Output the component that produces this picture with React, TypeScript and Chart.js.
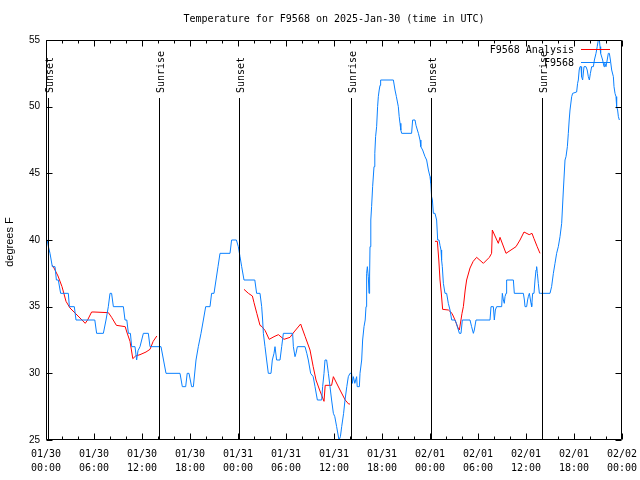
import React, { useEffect, useRef } from "react";
import { Chart, registerables } from "chart.js";

Chart.register(...registerables);

// Hours since 2025-01-30 00:00 UTC
const blueTimes = [0.0,0.15,0.3,0.5,0.79,1.125,1.3,1.54,1.83,2.79,2.92,3.54,3.75,6.1,6.33,7.17,7.5,7.79,8.0,8.2,8.42,9.67,9.875,10.1,10.3,10.55,10.71,11.125,11.33,11.5,11.75,12.17,12.79,13.0,14.375,15.0,16.75,17.04,17.46,17.65,17.875,18.2,18.42,18.75,19.04,19.375,19.67,19.96,20.5,20.7,21.0,21.25,21.5,21.75,23.0,23.2,23.8,24.04,24.25,24.46,24.75,26.1,26.33,26.75,26.96,27.08,27.17,27.375,27.58,27.79,28.125,28.29,28.5,28.625,28.83,29.25,29.46,29.67,30.83,30.92,31.125,31.25,31.42,32.375,32.6,32.79,33.08,33.4,33.625,33.92,34.46,34.58,34.75,34.875,35.08,35.3,35.5,35.7,35.92,36.1,36.33,36.625,36.8,36.96,37.2,37.375,37.6,37.79,38.0,38.2,38.3,38.42,38.6,38.83,38.9,39.17,39.25,39.46,39.58,39.75,39.9,40.0,40.08,40.17,40.29,40.375,40.45,40.5,40.6,40.7,40.83,41.0,41.1,41.2,41.33,41.45,41.54,41.65,41.75,41.83,43.42,43.625,43.8,44.04,44.15,44.25,44.35,44.46,45.7,45.83,46.125,46.25,46.42,46.55,46.75,46.85,47.08,47.375,47.58,47.8,48.0,48.1,48.2,48.3,48.42,48.625,48.83,48.96,49.125,49.25,49.375,49.45,49.54,49.67,49.875,50.08,50.29,50.5,50.71,51.125,51.3,51.42,51.55,51.67,51.875,52.04,53.0,53.2,53.42,53.54,53.75,55.5,55.625,55.92,56.04,56.17,56.33,56.96,57.04,57.17,57.29,57.375,57.5,57.58,58.42,58.54,59.67,59.8,59.875,60.08,60.2,60.29,60.42,60.625,60.71,60.83,61.0,61.125,61.25,61.33,61.42,61.54,61.67,61.83,63.0,63.2,63.42,63.625,63.83,64.04,64.25,64.46,64.67,64.875,65.0,65.17,65.29,65.4,65.5,65.71,65.83,66.33,66.45,66.54,66.65,66.75,66.875,66.95,67.08,67.25,67.5,67.65,67.79,67.92,68.05,68.21,68.42,68.55,68.75,68.9,69.04,69.17,69.25,69.33,69.58,69.75,69.85,70.0,70.15,70.29,70.42,70.55,70.71,70.92,71.0,71.125,71.25,71.33,71.45,71.55,71.67];
const blueTemps = [40,40,39.5,39,38,38,37,37,36,36,35,35,34,34,33,33,34,35,36,36,35,35,34,34,33,33,32,32,31,31.7,32,33,33,32,32,30,30,29,29,30,30,29,29,31,32,33,34,35,35,36,36,37,38,39,39,40,40,39.5,38.75,38,37,37,36,36,35,34,33,32,31,30,30,31,31.5,32,31,31,32,33,33,32,31.25,31.5,32,32,31.5,31,30,29.75,29,28,28,29,30,31,31,30,29,28,27,26.75,26,25,25.25,26,27,28,29,29.75,30,30,29.25,29.75,29.25,29.75,29,29,30,31,32.5,33.5,34,35,37.5,38,37.25,36,37.3,39.5,41.5,42.5,44,45.5,46.5,47.75,48.5,50,50.75,51.25,51.6,52,52,51.25,50.75,50,49.25,48.75,48.25,48,48,49,49,48.6,48.25,48,47.5,47,46.75,46.25,46,45.25,44.75,44.25,43.25,43,42,42,41.5,40,40,39.6,39.25,38.5,38,36.75,36,36,35.25,34.75,34,34,33.75,33.5,33.25,33,33,34,34,33.5,33,33.25,34,34,35,35,34,34.75,35,35,36,35.5,35.25,35.75,36,37,37,36,36,35.5,35,35,35.5,35.75,36,35.25,35,36,36,37,37.75,38,37.5,36.75,36,36,36,36.5,37.5,38.25,39,39.5,40.25,41.25,43.75,46,46.25,47,48,49,49.75,50.75,51,51.1,51.75,52,52.75,53,53,52.25,52,53,53,52.75,52.25,52,52.5,53,53,53.5,54,54.5,55,55,54.5,54,53.5,53,53.25,53,53.5,54,54,53.5,52.75,52.25,51.5,51,50.75,50,49.75,49.25,49];

// Analysis series (null = gap between analysis runs)
const redTimes = [0.8,1.0,1.5,2.0,2.5,3.0,3.5,4.0,4.5,4.9,5.2,5.7,6.0,7.8,8.2,8.8,9.9,10.1,10.5,10.85,11.2,11.75,12.5,13.0,13.4,13.85,
  19.0,
  24.75,25.3,25.8,26.0,26.35,26.75,27.0,27.4,27.9,28.5,29.05,29.75,30.5,31.0,31.83,32.4,33.0,33.4,33.75,34.2,34.75,34.9,35.7,35.92,36.75,37.4,37.83,38.0,
  43.0,
  48.625,48.92,49.1,49.25,49.4,49.58,50.3,50.75,51.125,51.5,51.67,52.0,52.17,52.4,52.58,53.0,53.4,53.83,54.67,55.42,55.7,55.79,56.54,56.75,57.5,58.0,58.75,59.25,59.75,60.4,60.75,61.0,61.4,61.75];
const redTemps = [38.1,37.9,37.3,36.5,35.4,34.9,34.6,34.3,34.0,33.75,34.0,34.6,34.6,34.55,34.2,33.6,33.5,33.1,32.4,31.1,31.3,31.4,31.6,31.8,32.4,32.8,
  null,
  36.3,36.0,35.8,35.3,34.5,33.6,33.5,33.2,32.55,32.75,32.9,32.55,32.7,33.1,33.7,32.75,31.75,30.5,29.5,28.75,27.9,29.1,29.1,29.75,28.75,28.0,27.7,27.7,
  null,
  39.9,39.9,38.5,37.0,36.1,34.8,34.75,34.5,34.0,33.4,33.25,34.5,35.0,36.25,37.0,37.9,38.4,38.7,38.25,38.7,39.0,40.75,39.75,40.2,39.0,39.2,39.5,40.0,40.6,40.4,40.5,40.1,39.5,39.0];

const sunTimes = [0.19, 14.125, 24.125, 38.125, 48.125, 62.0];
const sunLabels = ["Sunset", "Sunrise", "Sunset", "Sunrise", "Sunset", "Sunrise"];

const xTickDates = ["01/30","01/30","01/30","01/30","01/31","01/31","01/31","01/31","02/01","02/01","02/01","02/01","02/02"];
const xTickTimes = ["00:00","06:00","12:00","18:00","00:00","06:00","12:00","18:00","00:00","06:00","12:00","18:00","00:00"];

const titleText = "Temperature for F9568 on 2025-Jan-30 (time in UTC)";
const yAxisTitle = "degrees F";
const seriesNames = ["F9568 Analysis", "F9568"];
const BLUE = "#0a80ff";
const RED = "#ff0000";
const MONO = '"DejaVu Sans Mono", monospace';
const SANS = '"Liberation Sans", Arial, sans-serif';

const decorPlugin = {
  id: "decor",
  afterDatasetsDraw(chart: any) {
    const { ctx, chartArea: a, scales } = chart;
    const xs = scales.x;
    const ys = scales.y;
    ctx.save();
    ctx.strokeStyle = "#000";
    ctx.lineWidth = 1;
    // sun lines
    ctx.fillStyle = "#000";
    ctx.font = "10px " + MONO;
    sunTimes.forEach((t, i) => {
      const px = Math.round(xs.getPixelForValue(t)) + 0.5;
      ctx.beginPath();
      ctx.moveTo(px, 98);
      ctx.lineTo(px, a.bottom);
      ctx.stroke();
      ctx.save();
      ctx.translate(px + 2, 93);
      ctx.rotate(-Math.PI / 2);
      ctx.textAlign = "left";
      ctx.textBaseline = "middle";
      ctx.fillText(sunLabels[i], 0, 0);
      ctx.restore();
    });
    // border
    const l = Math.round(a.left) + 0.5, r = Math.round(a.right) - 0.5;
    const t0 = Math.round(a.top) + 0.5, b = Math.round(a.bottom) - 0.5;
    ctx.beginPath();
    ctx.rect(l, t0, r - l, b - t0);
    ctx.stroke();
    // ticks
    ctx.beginPath();
    for (let h = 0; h <= 72; h += 2) {
      const px = Math.round(xs.getPixelForValue(h)) + 0.5;
      const len = h % 6 === 0 ? 6 : 3;
      ctx.moveTo(px, b); ctx.lineTo(px, b - len);
      ctx.moveTo(px, t0); ctx.lineTo(px, t0 + len);
    }
    for (let v = 25; v <= 55; v += 5) {
      const py = Math.round(ys.getPixelForValue(v)) + 0.5;
      ctx.moveTo(l, py); ctx.lineTo(l + 6, py);
      ctx.moveTo(r, py); ctx.lineTo(r - 6, py);
    }
    ctx.stroke();
    // title
    ctx.fillStyle = "#000";
    ctx.font = "10px " + MONO;
    ctx.textAlign = "center";
    ctx.textBaseline = "middle";
    ctx.fillText(titleText, (a.left + a.right) / 2, 19);
    // y title
    ctx.save();
    ctx.translate(10, 242);
    ctx.rotate(-Math.PI / 2);
    ctx.font = "11px " + SANS;
    ctx.fillText(yAxisTitle, 0, 0);
    ctx.restore();
    // legend
    ctx.font = "10px " + MONO;
    ctx.textAlign = "right";
    const rows = [{ name: seriesNames[0], c: RED, y: 50 }, { name: seriesNames[1], c: BLUE, y: 63 }];
    rows.forEach((row) => {
      ctx.fillStyle = "#000";
      ctx.fillText(row.name, 574, row.y);
      ctx.strokeStyle = row.c;
      ctx.beginPath();
      ctx.moveTo(581, row.y - 0.5);
      ctx.lineTo(610, row.y - 0.5);
      ctx.stroke();
    });
    ctx.restore();
  },
};

export default function App() {
  const ref = useRef<HTMLCanvasElement | null>(null);
  useEffect(() => {
    if (!ref.current) return;
    const blueData = blueTimes.map((t, i) => ({ x: t, y: blueTemps[i] }));
    const redData = redTimes.map((t, i) => ({ x: t, y: redTemps[i] }));
    const chart = new Chart(ref.current, {
      type: "line",
      data: {
        datasets: [
          { label: seriesNames[1], data: blueData as any, borderColor: BLUE, borderWidth: 1, pointRadius: 0, tension: 0, fill: false },
          { label: seriesNames[0], data: redData as any, borderColor: RED, borderWidth: 1, pointRadius: 0, tension: 0, fill: false, spanGaps: false },
        ],
      },
      options: {
        animation: false,
        responsive: false,
        devicePixelRatio: 1,
        events: [],
        layout: { padding: { left: 0, top: 40, right: 18, bottom: 0 } },
        plugins: { legend: { display: false }, title: { display: false }, tooltip: { enabled: false } },
        scales: {
          x: {
            type: "linear",
            min: 0,
            max: 72,
            grid: { display: false, drawTicks: false },
            border: { display: false },
            ticks: {
              stepSize: 6,
              autoSkip: false,
              maxRotation: 0,
              padding: 7,
              color: "#000",
              font: { family: MONO, size: 10, lineHeight: 1.4 },
              callback: (_v: any, i: number) => [xTickDates[i], xTickTimes[i]],
            },
            afterFit: (s: any) => { s.height = 40; s.paddingLeft = 0; s.paddingRight = 0; },
          },
          y: {
            min: 25,
            max: 55,
            grid: { display: false, drawTicks: false },
            border: { display: false },
            ticks: {
              stepSize: 5,
              padding: 6,
              color: "#000",
              font: { family: SANS, size: 10 },
            },
            afterFit: (s: any) => { s.width = 46; s.paddingTop = 0; s.paddingBottom = 0; },
          },
        },
      },
      plugins: [decorPlugin],
    });
    return () => chart.destroy();
  }, []);
  return (
    <div style={{ position: "absolute", left: 0, top: 0, width: 640, height: 480, background: "#fff" }}>
      <canvas ref={ref} width={640} height={480} />
    </div>
  );
}
